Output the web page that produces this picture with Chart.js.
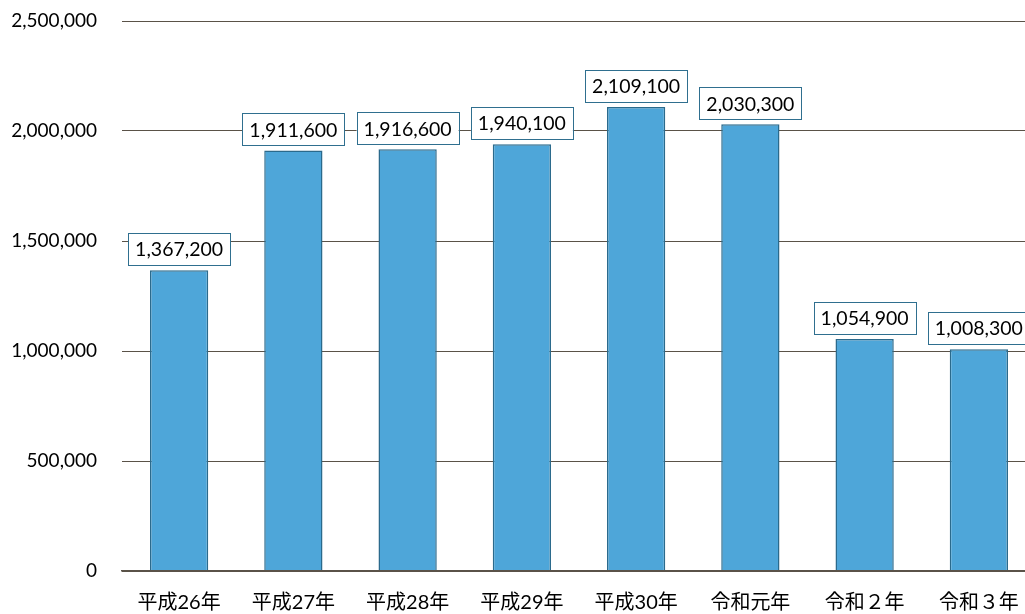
<!DOCTYPE html>
<html>
<head>
<meta charset="utf-8">
<script src="https://cdn.jsdelivr.net/npm/chart.js@4/dist/chart.umd.min.js"></script>
<style>
  html, body { margin: 0; padding: 0; overflow: hidden; background: #fff; }
  #wrap { width: 1040px; height: 614px; }
</style>
</head>
<body>
<div id="wrap"><canvas id="visitors"></canvas></div>
<script>
const years = ['平成26年', '平成27年', '平成28年', '平成29年', '平成30年', '令和元年', '令和２年', '令和３年'];
const counts = [1367200, 1911600, 1916600, 1940100, 2109100, 2030300, 1054900, 1008300];
const yTicks = [0, 500000, 1000000, 1500000, 2000000, 2500000];

const fontFamily = "Lato, 'Noto Sans CJK JP', sans-serif";

// value boxes above each bar
const valueBoxes = {
  id: 'valueBoxes',
  afterDatasetsDraw(chart) {
    const ctx = chart.ctx;
    const meta = chart.getDatasetMeta(0);
    ctx.save();
    ctx.font = '19.5px ' + fontFamily;
    ctx.textAlign = 'center';
    ctx.textBaseline = 'middle';
    meta.data.forEach((bar, i) => {
      const text = counts[i].toLocaleString('en-US');
      const w = ctx.measureText(text).width + 14;
      const h = 32;
      const x = bar.x - w / 2;
      const y = bar.y - 5 - h;
      ctx.fillStyle = '#ffffff';
      ctx.fillRect(x, y, w, h);
      ctx.strokeStyle = '#2f6f8f';
      ctx.lineWidth = 1;
      ctx.strokeRect(Math.round(x) + 0.5, Math.round(y) + 0.5, Math.round(w), h);
      ctx.fillStyle = '#000';
      ctx.fillText(text, bar.x, y + h / 2 + 1);
    });
    ctx.restore();
  }
};

new Chart(document.getElementById('visitors'), {
  type: 'bar',
  data: {
    labels: years,
    datasets: [{
      data: counts,
      backgroundColor: '#4ea6d9',
      borderColor: '#2b6a8c',
      borderWidth: 1.5,
      barPercentage: 0.51,
      categoryPercentage: 1
    }]
  },
  options: {
    responsive: true,
    maintainAspectRatio: false,
    animation: false,
    layout: { padding: { top: 21, right: 4, left: 0, bottom: 0 } },
    plugins: {
      legend: { display: false },
      tooltip: { enabled: false }
    },
    scales: {
      y: {
        min: 0,
        max: 2500000,
        afterFit(scale) {
          scale.width = 122;
          scale.paddingTop = 0;
          scale.paddingBottom = 0;
        },
        afterBuildTicks(scale) { scale.ticks = yTicks.map(v => ({ value: v })); },
        border: { display: false },
        grid: { color: '#5a5248', lineWidth: 1, drawTicks: false },
        ticks: {
          padding: 25,
          color: '#000',
          font: { family: fontFamily, size: 19 },
          callback: v => v.toLocaleString('en-US')
        }
      },
      x: {
        afterFit(scale) { scale.height = 43; },
        border: { display: true, color: '#5a5248', width: 1.5, z: 1 },
        grid: { display: false, drawTicks: false },
        ticks: {
          padding: 20,
          color: '#000',
          maxRotation: 0,
          font: { family: fontFamily, size: 20 }
        }
      }
    }
  },
  plugins: [valueBoxes]
});
</script>
</body>
</html>
